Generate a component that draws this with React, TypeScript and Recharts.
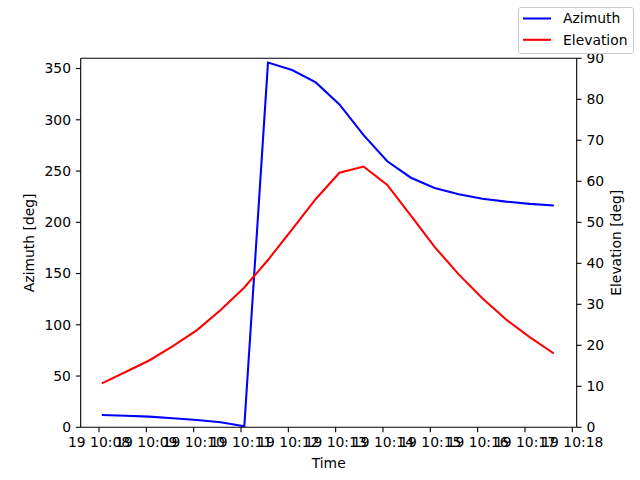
import React from "react";
import { ComposedChart, Label, Line, ReferenceLine, XAxis, YAxis } from "recharts";

// minutes after 10:08 on the 19th
const times = [0.06, 0.56, 1.06, 1.56, 2.07, 2.57, 3.07, 3.57, 4.08, 4.58, 5.08, 5.59, 6.09, 6.59, 7.09, 7.6, 8.1, 8.6, 9.1, 9.61];
const azimuth = [12.0, 11.3, 10.4, 8.8, 7.1, 4.9, 0.9, 355.8, 348.5, 336.5, 315.0, 285.0, 259.5, 243.5, 233.5, 227.3, 223.0, 220.2, 218.0, 216.4];
const elevation = [10.7, 13.5, 16.3, 19.8, 23.7, 28.6, 34.1, 40.8, 48.3, 55.7, 62.1, 63.6, 59.1, 51.6, 44.0, 37.3, 31.5, 26.3, 22.0, 18.0];

const xTicks = [0, 1, 2, 3, 4, 5, 6, 7, 8, 9, 10];
const xTickLabels = ["19 10:08", "19 10:09", "19 10:10", "19 10:11", "19 10:12", "19 10:13", "19 10:14", "19 10:15", "19 10:16", "19 10:17", "19 10:18"];
const azTicks = [0, 50, 100, 150, 200, 250, 300, 350];
const elTicks = [0, 10, 20, 30, 40, 50, 60, 70, 80, 90];

const data = times.map((t, i) => ({ t, az: azimuth[i], el: elevation[i] }));

const FONT = "DejaVu Sans";
const FS = 13.9;
const TICK = 4.86;
const tickStyle = { fill: "#000", fontFamily: FONT, fontSize: FS };
const axisLine = { stroke: "#000", strokeWidth: 1.1 };

function LegendBox() {
  return (
    <svg width={116} height={47} style={{ position: "absolute", left: 518, top: 6.5 }}>
      <rect x={0.5} y={0.5} width={115} height={46} rx={2.5} fill="#fff" fillOpacity={0.8} stroke="#ccc" strokeWidth={1} />
      <line x1={5} x2={33} y1={11.5} y2={11.5} stroke="#0000ff" strokeWidth={2.08} />
      <text x={45} y={11.5} dy="0.355em" fontFamily={FONT} fontSize={FS} fill="#000">Azimuth</text>
      <line x1={5} x2={33} y1={32.8} y2={32.8} stroke="#ff0000" strokeWidth={2.08} />
      <text x={45} y={32.8} dy="0.355em" fontFamily={FONT} fontSize={FS} fill="#000">Elevation</text>
    </svg>
  );
}

export default function App() {
  return (
    <div style={{ position: "absolute", left: 0, top: 0, width: 640, height: 480, background: "#fff" }}>
      <ComposedChart width={640} height={480} data={data} margin={{ top: 58.3, right: 0, bottom: 0, left: 0 }}>
        <XAxis
          dataKey="t"
          type="number"
          domain={[-0.387, 10.093]}
          ticks={xTicks}
          tickFormatter={(v: number) => xTickLabels[xTicks.indexOf(v)]}
          interval={0}
          height={52.7}
          tickSize={TICK}
          tickMargin={TICK}
          tick={tickStyle}
          axisLine={axisLine}
          tickLine={axisLine}
          allowDataOverflow
        >
          <Label value="Time" position="insideBottom" offset={12} style={{ fill: "#000", fontFamily: FONT, fontSize: FS }} />
        </XAxis>
        <YAxis
          yAxisId="az"
          orientation="left"
          domain={[0, 360]}
          ticks={azTicks}
          width={80.7}
          tickSize={TICK}
          tickMargin={TICK}
          tick={tickStyle}
          axisLine={axisLine}
          tickLine={axisLine}
          allowDataOverflow
        >
          <Label value="Azimuth [deg]" angle={-90} position="insideLeft" offset={29} style={{ fill: "#000", fontFamily: FONT, fontSize: FS, textAnchor: "middle" }} />
        </YAxis>
        <YAxis
          yAxisId="el"
          orientation="right"
          domain={[0, 90]}
          ticks={elTicks}
          width={63.3}
          tickSize={TICK}
          tickMargin={TICK}
          tick={tickStyle}
          axisLine={axisLine}
          tickLine={axisLine}
          allowDataOverflow
        >
          <Label value="Elevation [deg]" angle={-90} position="insideRight" offset={24} style={{ fill: "#000", fontFamily: FONT, fontSize: FS, textAnchor: "middle" }} />
        </YAxis>
        <ReferenceLine yAxisId="az" y={360} stroke="#000" strokeWidth={1.1} />
        <Line yAxisId="az" dataKey="az" stroke="#0000ff" strokeWidth={2.08} dot={false} type="linear" isAnimationActive={false} />
        <Line yAxisId="el" dataKey="el" stroke="#ff0000" strokeWidth={2.08} dot={false} type="linear" isAnimationActive={false} />
      </ComposedChart>
      <LegendBox />
    </div>
  );
}
